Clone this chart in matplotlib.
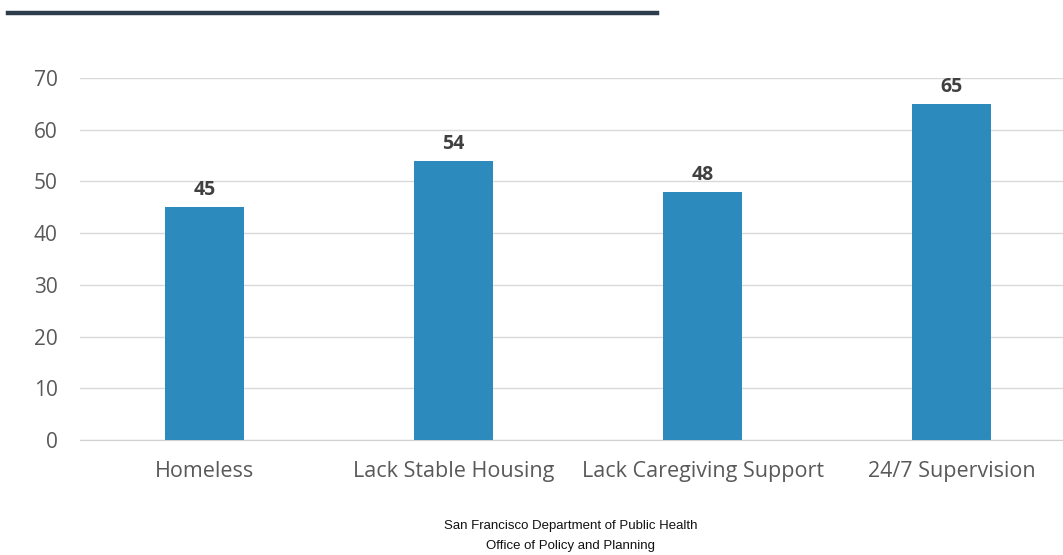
import matplotlib.pyplot as plt
from matplotlib.lines import Line2D

# DATA
categories = ["Homeless", "Lack Stable Housing", "Lack Caregiving Support", "24/7 Supervision"]
values = [45, 54, 48, 65]
yticks = [0, 10, 20, 30, 40, 50, 60, 70]
footer = ["San Francisco Department of Public Health", "Office of Policy and Planning"]

BAR_COLOR = "#2C8BBC"
TEXT_GRAY = "#595959"

fig = plt.figure(figsize=(10.63, 5.55), dpi=100)
ax = fig.add_axes([80 / 1063, (555 - 440) / 555, 1 - 80 / 1063, (440 - 78) / 555])

x = range(len(categories))
bars = ax.bar(x, values, width=0.315, color=BAR_COLOR, zorder=3)

for b, v in zip(bars, values):
    ax.text(b.get_x() + b.get_width() / 2, v + 1.4, str(v), ha="center", va="bottom",
            fontsize=14, fontweight="bold", color="#404040", family="Open Sans")

ax.set_xlim(-0.5, 3.5 - 13 / 249)
ax.set_ylim(0, 70)
ax.set_yticks(yticks)
ax.set_xticks(list(x))
ax.set_xticklabels(categories)
ax.grid(axis="y", color="#d9d9d9", linewidth=1, zorder=0)
for s in ["top", "right", "left"]:
    ax.spines[s].set_visible(False)
ax.spines["bottom"].set_color("#d0d0d0")
ax.tick_params(axis="both", length=0, colors=TEXT_GRAY)
ax.tick_params(axis="x", pad=15, labelsize=15.5)
ax.tick_params(axis="y", pad=16, labelsize=15)
for lab in ax.get_xticklabels() + ax.get_yticklabels():
    lab.set_family("Open Sans")

# top rule
fig.add_artist(Line2D([8 / 1063, 657 / 1063], [1 - 13 / 555, 1 - 13 / 555],
                      color="#2E3D4C", linewidth=3.2, transform=fig.transFigure))

fig.text(571 / 1063, 1 - 526 / 555, footer[0], ha="center", va="center", fontsize=9.5,
         family="Liberation Sans", color="#111111")
fig.text(571 / 1063, 1 - 546 / 555, footer[1], ha="center", va="center", fontsize=9.5,
         family="Liberation Sans", color="#111111")

fig.savefig("out.png", dpi=100)
